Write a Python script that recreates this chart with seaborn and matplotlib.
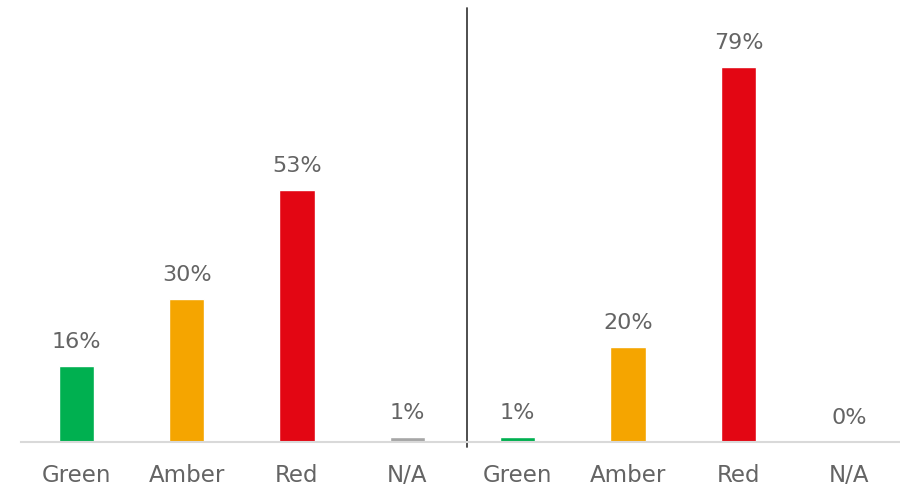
import matplotlib
matplotlib.use("Agg")
import matplotlib.pyplot as plt
import seaborn as sns
import pandas as pd

categories = ["Green", "Amber", "Red", "N/A"]
before_pct = [16, 30, 53, 1]
after_pct = [1, 20, 79, 0]
rag_colors = ["#00b050", "#f5a500", "#e30613", "#a6a6a6"]

labels = categories + categories
values = before_pct + after_pct
df = pd.DataFrame({
    "slot": [str(i) for i in range(len(labels))],
    "status": labels,
    "pct": values,
})

sns.set_theme(style="white")
plt.rcParams["font.family"] = ["DejaVu Sans"]
text_color = "#646464"

fig = plt.figure(figsize=(9, 4.86), dpi=100)
ax = fig.add_axes([21 / 900, 1 - 442 / 486, 883 / 900, 434 / 486])

palette = dict(zip(categories, rag_colors))
sns.barplot(data=df, x="slot", y="pct", hue="status", palette=palette,
            dodge=False, width=0.32, legend=False, ax=ax, saturation=1)

ax.set_xlim(-0.5, 7.5)
ax.set_ylim(0, 434 / 4.75)

for i, v in enumerate(values):
    ax.annotate(f"{v}%", (i, v), xytext=(0, 13), textcoords="offset points",
                ha="center", va="baseline", fontsize=16, color=text_color)

ax.set_xticks(range(len(labels)))
ax.set_xticklabels(labels, fontsize=16.5, color=text_color)
ax.tick_params(axis="x", length=0, pad=16)
ax.set_yticks([])
ax.set_xlabel("")
ax.set_ylabel("")
for side in ["top", "right", "left"]:
    ax.spines[side].set_visible(False)
ax.spines["bottom"].set_color("#d9d9d9")
ax.spines["bottom"].set_linewidth(1.5)

# divider between the two groups
ax.plot([3.54, 3.54], [-1.05, 434 / 4.75], color="#404040", lw=1.3, clip_on=False)

fig.savefig("out.png", dpi=100, facecolor="white")
